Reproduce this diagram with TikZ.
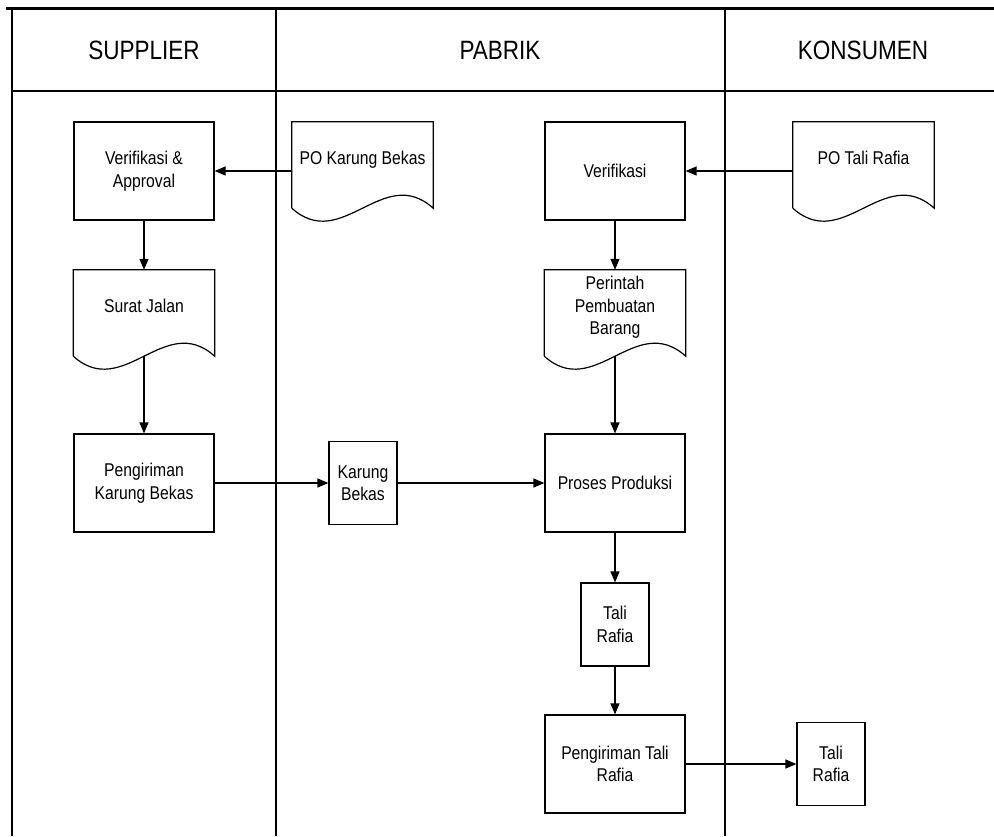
\documentclass[tikz,border=0pt]{standalone}
\usepackage{fontspec}
\setmainfont[FakeStretch=0.85]{Liberation Sans}
\usetikzlibrary{arrows.meta}

\begin{document}
\begin{tikzpicture}[x=1pt,y=-1pt,
    boxfont/.style={font=\fontsize{18.5}{22.5}\selectfont},
    proc/.style={draw,line width=1.2pt,boxfont,minimum width=140pt,minimum height=98pt,align=center},
    item/.style={draw,line width=1.2pt,boxfont,minimum width=68pt,minimum height=83pt,align=center,inner sep=2pt},
    docu/.style={boxfont,minimum width=141pt,minimum height=86pt,align=center,text depth=15pt},
    flow/.style={line width=1.2pt,-{Triangle[length=11pt,width=9pt]}},
    lane/.style={line width=1.2pt},
    lanetitle/.style={font=\fontsize{26.5}{30}\selectfont}]

    \useasboundingbox (0,0) rectangle (994,836);

    % swimlanes
    \draw[line width=3pt] (6,8) -- (994,8);
    \draw[lane] (12,8) -- (12,836);
    \draw[lane] (276,8) -- (276,836);
    \draw[lane] (725,8) -- (725,836);
    \draw[lane] (12,91) -- (994,91);

    \node[lanetitle] (supplier) at (144,50) {SUPPLIER};
    \node[lanetitle] (pabrik) at (500,50) {PABRIK};
    \node[lanetitle] (konsumen) at (863,50) {KONSUMEN};

    % supplier
    \node[proc] (va) at (144,171) {Verifikasi \&\\Approval};
    \node[docu] (sj) at (144,313) {Surat Jalan};
    \node[proc] (pkb) at (144,483) {Pengiriman\\Karung Bekas};

    % pabrik
    \node[docu] (po1) at (362.5,165) {PO Karung Bekas};
    \node[item] (kb) at (363,483) {Karung\\Bekas};
    \node[proc] (vp) at (615,171) {Verifikasi};
    \node[docu] (ppb) at (615,313) {Perintah\\Pembuatan\\Barang};
    \node[proc] (pp) at (615,483) {Proses Produksi};
    \node[item] (tr1) at (615,624.5) {Tali\\Rafia};
    \node[proc] (ptr) at (615,764) {Pengiriman Tali\\Rafia};

    % konsumen
    \node[docu] (po2) at (863.5,165) {PO Tali Rafia};
    \node[item] (tr2) at (831,764) {Tali\\Rafia};

    % document outlines with wavy bottom
    \foreach \d in {po1,sj,po2,ppb}
        \draw[line width=1.2pt] (\d.south west) -- (\d.north west) -- (\d.north east) -- (\d.south east)
            .. controls +(-50,-45) and +(50,45) .. (\d.south west);

    % flows
    \draw[flow] (po1.west |- va.east) -- (va.east);
    \draw[flow] (va.south) -- (sj.north);
    \draw[flow] (sj.south) -- (pkb.north);
    \draw[flow] (pkb.east) -- (kb.west);
    \draw[flow] (kb.east) -- (pp.west);
    \draw[flow] (po2.west |- vp.east) -- (vp.east);
    \draw[flow] (vp.south) -- (ppb.north);
    \draw[flow] (ppb.south) -- (pp.north);
    \draw[flow] (pp.south) -- (tr1.north);
    \draw[flow] (tr1.south) -- (ptr.north);
    \draw[flow] (ptr.east) -- (tr2.west);

\end{tikzpicture}
\end{document}
